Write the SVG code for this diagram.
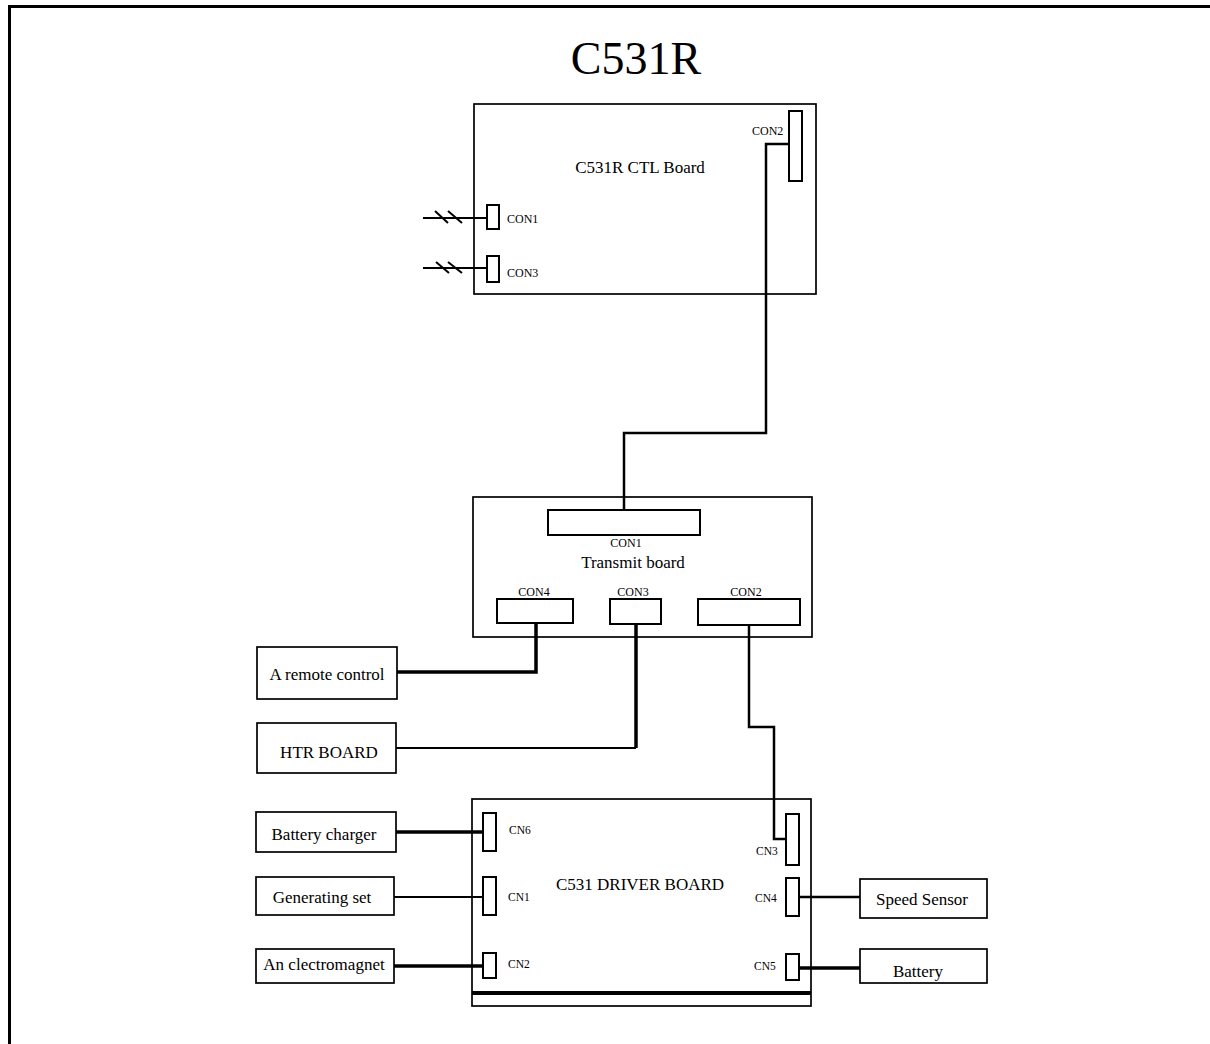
<svg xmlns="http://www.w3.org/2000/svg" width="1210" height="1044" viewBox="0 0 1210 1044">
<style>
text{font-family:"Liberation Serif","Times New Roman",serif;fill:#000}
.box{fill:#fff;stroke:#000;stroke-width:1.7}
.con{fill:#fff;stroke:#000;stroke-width:2}
.w{fill:none;stroke:#000;stroke-width:3.5}
.wt{fill:none;stroke:#000;stroke-width:2.5}
.h{fill:none;stroke:#000;stroke-width:2}
.lbl{font-size:17px;text-anchor:middle}
.cl{font-size:12px}
.cn{font-size:11.5px}
</style>
<rect width="1210" height="1044" fill="#fff"/>
<g id="frame">
<path d="M9.5 1044 V6.5 H1210" fill="none" stroke="#000" stroke-width="3"/>
<text x="636" y="74" font-size="46" text-anchor="middle">C531R</text>
</g>
<g id="ctl-board">
<rect class="box" x="474" y="104" width="342" height="190"/>
<text x="640" y="173" font-size="17" text-anchor="middle">C531R CTL Board</text>
<rect class="con" x="789" y="111" width="13" height="70"/>
<text class="cl" x="752" y="135">CON2</text>
<rect class="con" x="487" y="205" width="12" height="24"/>
<text class="cl" x="507" y="223">CON1</text>
<rect class="con" x="487" y="256" width="12" height="26"/>
<text class="cl" x="507" y="277">CON3</text>
</g>
<g id="transmit-board">
<rect class="box" x="473" y="497" width="339" height="140"/>
<rect class="con" x="548" y="510" width="152" height="25"/>
<text class="cl" x="626" y="547" text-anchor="middle">CON1</text>
<text class="lbl" x="633" y="568">Transmit board</text>
<rect class="con" x="497" y="599" width="76" height="24"/>
<text class="cl" x="534" y="596" text-anchor="middle">CON4</text>
<rect class="con" x="610" y="599" width="51" height="25"/>
<text class="cl" x="633" y="596" text-anchor="middle">CON3</text>
<rect class="con" x="698" y="599" width="102" height="26"/>
<text class="cl" x="746" y="596" text-anchor="middle">CON2</text>
</g>
<g id="remote-control">
<rect class="box" x="257" y="647" width="140" height="52"/>
<text class="lbl" x="327" y="680">A remote control</text>
</g>
<g id="htr-board">
<rect class="box" x="257" y="723" width="139" height="50"/>
<text class="lbl" x="329" y="758">HTR BOARD</text>
</g>
<g id="driver-board">
<rect class="box" x="472" y="799" width="339" height="207"/>
<path d="M472 993 H811" stroke="#000" stroke-width="4"/>
<text class="lbl" x="640" y="890">C531 DRIVER BOARD</text>
<rect class="con" x="483" y="813" width="13" height="38"/>
<text class="cn" x="509" y="834">CN6</text>
<rect class="con" x="483" y="877" width="13" height="38"/>
<text class="cn" x="508" y="901">CN1</text>
<rect class="con" x="483" y="953" width="13" height="25"/>
<text class="cn" x="508" y="968">CN2</text>
<rect class="con" x="786" y="814" width="13" height="51"/>
<text class="cn" x="756" y="855">CN3</text>
<rect class="con" x="786" y="878" width="13" height="38"/>
<text class="cn" x="755" y="902">CN4</text>
<rect class="con" x="786" y="954" width="13" height="26"/>
<text class="cn" x="754" y="970">CN5</text>
</g>
<g id="battery-charger">
<rect class="box" x="256" y="812" width="140" height="40"/>
<text class="lbl" x="324" y="840">Battery charger</text>
</g>
<g id="generating-set">
<rect class="box" x="256" y="877" width="138" height="38"/>
<text class="lbl" x="322" y="903">Generating set</text>
</g>
<g id="electromagnet">
<rect class="box" x="256" y="949" width="138" height="34"/>
<text class="lbl" x="324" y="970">An clectromagnet</text>
</g>
<g id="speed-sensor">
<rect class="box" x="860" y="879" width="127" height="39"/>
<text class="lbl" x="922" y="905">Speed Sensor</text>
</g>
<g id="battery">
<rect class="box" x="860" y="949" width="127" height="34"/>
<text class="lbl" x="918" y="977">Battery</text>
</g>
<g id="connectors">
<path class="wt" d="M789 144 H766 V433 H624 V510"/>
<path class="w" d="M397 672 H536 V623"/>
<path class="h" d="M396 748 H636"/>
<path class="w" d="M636 748 V624"/>
<path class="wt" d="M749 625 V727 H774 V839 H786"/>
<path class="w" d="M396 832 H483"/>
<path class="h" d="M394 897 H483"/>
<path class="w" d="M394 966 H483"/>
<path class="wt" d="M799 897 H860"/>
<path class="w" d="M799 968 H860"/>
<path class="h" d="M423 218 H487 M435 211 L448 223 M448 211 L462 223"/>
<path class="h" d="M423 268 H487 M436 262 L449 273 M448 262 L462 273"/>
</g>
</svg>
